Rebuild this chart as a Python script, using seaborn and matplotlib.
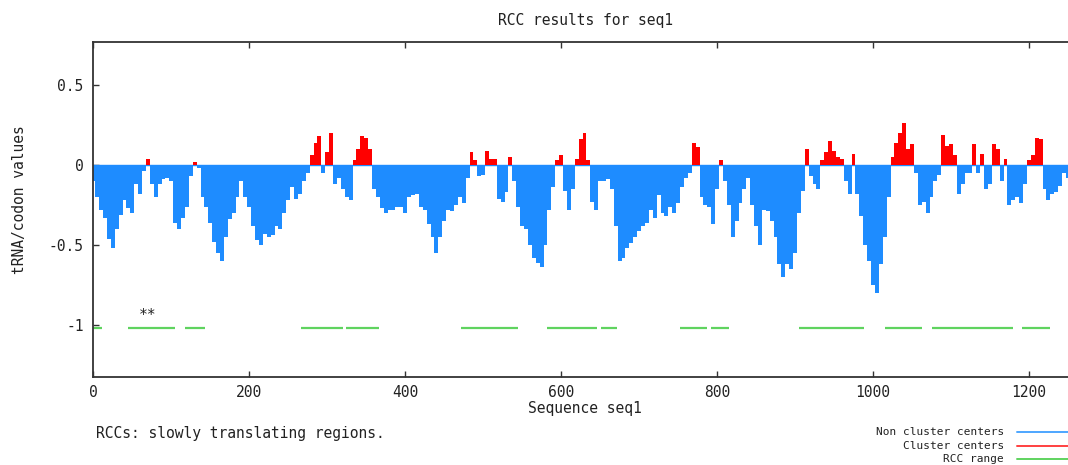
import numpy as np
import pandas as pd
import matplotlib
matplotlib.use("Agg")
import matplotlib.pyplot as plt
import seaborn as sns
from matplotlib.lines import Line2D

# ---------------- data ----------------
positions = list(range(0, 1255, 5))
values = [
    -0.10, -0.20, -0.28, -0.33, -0.46, -0.52, -0.40, -0.31, -0.22, -0.27,
    -0.30, -0.12, -0.18, -0.04, 0.04, -0.12, -0.20, -0.12, -0.09, -0.08,
    -0.10, -0.36, -0.40, -0.33, -0.26, -0.07, 0.02, -0.02, -0.20, -0.26,
    -0.36, -0.48, -0.55, -0.60, -0.45, -0.34, -0.30, -0.20, -0.10, -0.20,
    -0.26, -0.38, -0.47, -0.50, -0.43, -0.45, -0.44, -0.38, -0.40, -0.30,
    -0.22, -0.14, -0.21, -0.18, -0.10, -0.05, 0.06, 0.14, 0.18, -0.05,
    0.08, 0.20, -0.12, -0.08, -0.15, -0.20, -0.22, 0.03, 0.10, 0.18,
    0.17, 0.10, -0.15, -0.20, -0.27, -0.30, -0.28, -0.28, -0.26, -0.26,
    -0.30, -0.20, -0.19, -0.18, -0.26, -0.28, -0.37, -0.45, -0.55, -0.45,
    -0.35, -0.28, -0.29, -0.25, -0.20, -0.24, -0.08, 0.08, 0.03, -0.07,
    -0.06, 0.09, 0.04, 0.04, -0.21, -0.23, -0.17, 0.05, -0.10, -0.26,
    -0.38, -0.40, -0.50, -0.58, -0.61, -0.64, -0.50, -0.28, -0.14, 0.03,
    0.06, -0.16, -0.28, -0.15, 0.04, 0.16, 0.20, 0.03, -0.23, -0.28,
    -0.10, -0.10, -0.09, -0.15, -0.38, -0.60, -0.58, -0.52, -0.49, -0.45,
    -0.41, -0.38, -0.36, -0.28, -0.33, -0.19, -0.30, -0.32, -0.26, -0.30,
    -0.24, -0.14, -0.08, -0.05, 0.14, 0.11, -0.20, -0.25, -0.26, -0.37,
    -0.15, 0.03, -0.10, -0.25, -0.45, -0.35, -0.24, -0.15, -0.08, -0.25,
    -0.38, -0.50, -0.28, -0.29, -0.35, -0.45, -0.62, -0.70, -0.62, -0.65,
    -0.55, -0.30, -0.16, 0.10, -0.07, -0.12, -0.15, 0.03, 0.08, 0.15,
    0.09, 0.05, 0.04, -0.10, -0.18, 0.07, -0.18, -0.32, -0.50, -0.60,
    -0.75, -0.80, -0.62, -0.45, -0.20, 0.05, 0.14, 0.20, 0.26, 0.10,
    0.13, -0.05, -0.25, -0.23, -0.30, -0.20, -0.10, -0.06, 0.19, 0.12,
    0.13, 0.06, -0.18, -0.12, -0.05, -0.05, 0.13, -0.05, 0.07, -0.15,
    -0.12, 0.13, 0.10, -0.10, 0.04, -0.25, -0.22, -0.20, -0.24, -0.12,
    0.03, 0.06, 0.17, 0.16, -0.15, -0.22, -0.18, -0.17, -0.13, -0.05,
    -0.08,
]
rcc_start = [0, 45, 117, 266, 324, 472, 582, 651, 752, 792, 905, 1015, 1076, 1191]
rcc_end = [11, 105, 143, 320, 367, 545, 646, 672, 787, 815, 988, 1063, 1180, 1227]
rcc_level = -1.02
marker_x, marker_y, marker_text = 70, -0.94, "**"
xticks = [0, 200, 400, 600, 800, 1000, 1200]
yticks = [0.5, 0, -0.5, -1]
ytick_labels = ["0.5", "0", "-0.5", "-1"]
legend_labels = ["Non cluster centers", "Cluster centers", "RCC range"]
title = "RCC results for seq1"
xlabel = "Sequence seq1"
ylabel = "tRNA/codon values"
note = "RCCs: slowly translating regions."

# ---------------- style ----------------
BLUE = "#1E8CFF"
RED = "#FF0000"
GREEN = "#5FD35F"
LBLUE = "#4DA6FF"
LRED = "#FF4040"
TXT = "#222222"
FS = 10.5
FS_LEG = 8.0

sns.set_style("ticks")
plt.rcParams["font.family"] = ["DejaVu Sans Mono", "DejaVu Sans"]

W, H = 1068, 465
fig = plt.figure(figsize=(W / 100, H / 100), dpi=100)
left, right, top, bottom = 93.3, 1068, 41.7, 377
ax = fig.add_axes([left / W, 1 - bottom / H, (right - left) / W, (bottom - top) / H])

df = pd.DataFrame({"pos": positions, "val": values})
df["kind"] = np.where(df["val"] > 0, legend_labels[1], legend_labels[0])

ax.axhline(0, color=BLUE, lw=1.0, zorder=0)
sns.barplot(data=df, x="pos", y="val", hue="kind",
            palette={legend_labels[0]: BLUE, legend_labels[1]: RED},
            native_scale=True, dodge=False, width=1.0, saturation=1,
            linewidth=0, errorbar=None, legend=False, ax=ax)

ax.hlines([rcc_level] * len(rcc_start), rcc_start, rcc_end, color=GREEN, lw=1.6)
ax.text(marker_x, marker_y, marker_text, ha="center", va="center",
        fontsize=FS, color=TXT)

ax.set_xlim(0, (right - left) / 0.7797)
ax.set_ylim(-1.325, 0.77)
ax.set_xticks(xticks, [str(t) for t in xticks])
ax.set_yticks(yticks, ytick_labels)
ax.set_xlabel("")
ax.set_ylabel("")

for s in ["left", "bottom", "top"]:
    ax.spines[s].set_visible(True)
    ax.spines[s].set_color("#333333")
    ax.spines[s].set_linewidth(1.3)
ax.spines["right"].set_visible(False)
ax.tick_params(axis="both", direction="in", length=4, width=1.0, color="#333333",
               labelsize=FS, labelcolor=TXT, top=True)
ax.tick_params(axis="y", pad=7)
ax.tick_params(axis="x", pad=6)

fig.text(585 / W, 1 - 20 / H, title, ha="center", va="center", fontsize=FS, color=TXT)
fig.text(585 / W, 1 - 409 / H, xlabel, ha="center", va="center", fontsize=FS, color=TXT)
fig.text(20 / W, 1 - 200 / H, ylabel, ha="center", va="center", rotation=90,
         fontsize=FS, color=TXT)
fig.text(96 / W, 1 - 433 / H, note, ha="left", va="center", fontsize=FS, color=TXT)

leg_colors = [LBLUE, LRED, GREEN]
for i, (lab, col) in enumerate(zip(legend_labels, leg_colors)):
    yy = 1 - (432 + 13.5 * i) / H
    fig.text(1004 / W, yy, lab, ha="right", va="center", fontsize=FS_LEG, color=TXT)
    fig.add_artist(Line2D([1017 / W, 1068 / W], [yy, yy], transform=fig.transFigure,
                          color=col, lw=1.4))

fig.savefig("out.png", dpi=100)
